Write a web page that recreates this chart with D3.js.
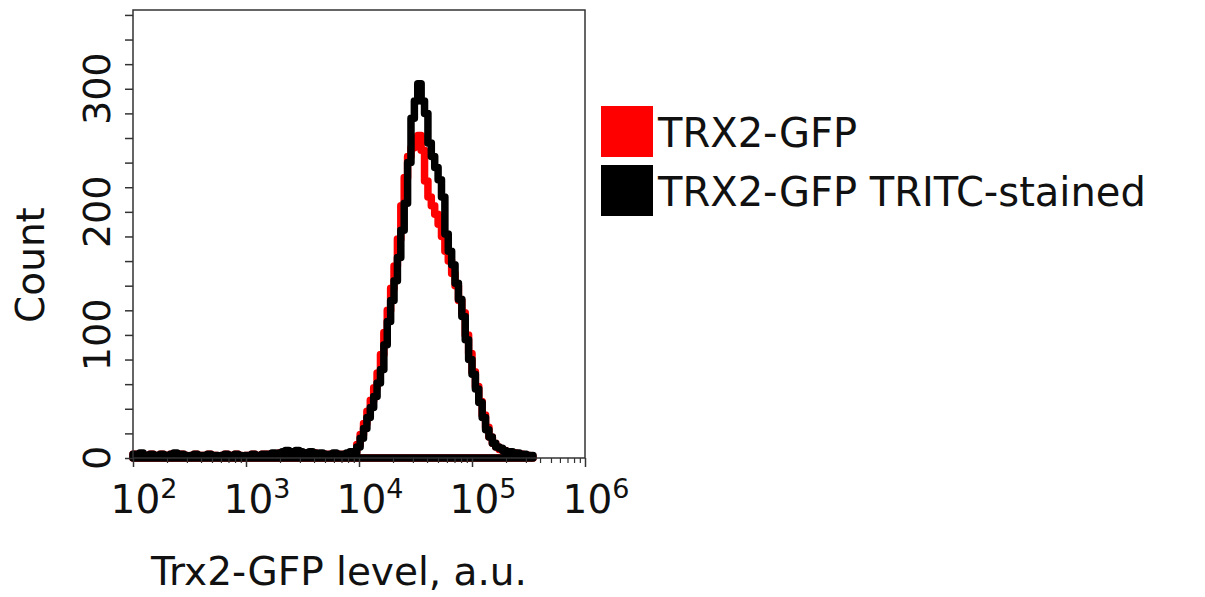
<!DOCTYPE html>
<html>
<head>
<meta charset="utf-8">
<script src="https://cdn.jsdelivr.net/npm/d3@7"></script>
<style>
  body { margin: 0; background: #fff; }
  text { font-family: "DejaVu Sans", sans-serif; fill: #111; }
</style>
</head>
<body>
<div id="chart"></div>
<script>
// histogram bins: log10 lower edge of first bin and bin width (decades)
const binStartLog = 2.0;
const binWidthLog = 0.03;

// counts per bin
const countsTrx2 = [
  3, 2, 3, 2, 1, 3, 2, 2, 3, 1, 2, 3, 3, 2, 3, 2, 1, 2, 3, 2,
  2, 1, 3, 2, 2, 1, 2, 3, 2, 2, 3, 2, 1, 2, 2, 3, 2, 2, 3, 3,
  2, 3, 3, 4, 4, 5, 4, 4, 5, 4, 4, 3, 4, 4, 3, 3, 3, 2, 3, 3,
  3, 2, 3, 3, 4, 5, 11, 19, 28, 38, 47, 57, 69, 84, 102, 120, 138, 156, 178, 205,
  228, 245, 252, 258, 262, 250, 225, 212, 205, 198, 190, 180, 168, 160, 150, 140, 128, 118, 100, 85,
  70, 58, 46, 35, 25, 17, 12, 9, 7, 6, 5, 4, 4, 3, 3, 2, 2, 1
];

const countsTritc = [
  3, 2, 4, 2, 1, 3, 2, 2, 3, 1, 2, 3, 4, 2, 3, 2, 1, 2, 3, 2,
  2, 1, 3, 2, 2, 1, 2, 3, 2, 2, 3, 2, 1, 2, 2, 3, 2, 2, 3, 3,
  2, 4, 3, 4, 5, 6, 5, 4, 6, 5, 4, 3, 5, 4, 3, 4, 3, 2, 3, 4,
  3, 2, 3, 4, 5, 4, 9, 16, 24, 33, 41, 50, 61, 72, 92, 111, 128, 144, 163, 185,
  207, 240, 276, 290, 304, 290, 280, 256, 245, 236, 226, 212, 182, 168, 157, 142, 129, 115, 96, 80,
  68, 56, 45, 33, 23, 17, 12, 9, 8, 6, 5, 5, 4, 4, 3, 3, 2, 2
];

const seriesNames = ["TRX2-GFP", "TRX2-GFP TRITC-stained"];
const seriesColors = ["#ff0000", "#000000"];
const xDecades = [1e2, 1e3, 1e4, 1e5, 1e6];
const yTickLabels = [0, 100, 200, 300];

const width = 1205, height = 597;
const margin = { top: 10, left: 133, right: 620, bottom: 139 };
const plotW = width - margin.left - margin.right;
const plotH = height - margin.top - margin.bottom;

const svg = d3.select("#chart").append("svg")
  .attr("width", width)
  .attr("height", height);

const x = d3.scaleLog().domain([1e2, 1e6]).range([0, plotW]);
const y = d3.scaleLinear().domain([0, 364]).range([plotH, 0]);

const g = svg.append("g")
  .attr("transform", "translate(" + margin.left + "," + margin.top + ")");

// step outline like matplotlib histtype='step'
function stepPath(counts) {
  const edges = d3.range(counts.length + 1).map(i => Math.pow(10, binStartLog + i * binWidthLog));
  const pts = [[edges[0], 0]];
  counts.forEach((c, i) => {
    pts.push([edges[i], c]);
    pts.push([edges[i + 1], c]);
  });
  pts.push([edges[edges.length - 1], 0]);
  return d3.line().x(d => x(d[0])).y(d => y(d[1]))(pts) + "Z";
}

[countsTrx2, countsTritc].forEach((counts, k) => {
  g.append("path")
    .attr("d", stepPath(counts))
    .attr("fill", "none")
    .attr("stroke", seriesColors[k])
    .attr("stroke-width", 7.5)
    .attr("stroke-linejoin", "round");
});

// frame
g.append("rect")
  .attr("width", plotW).attr("height", plotH)
  .attr("fill", "none").attr("stroke", "#333").attr("stroke-width", 1.5);

// y ticks every 20
const yAxis = d3.axisLeft(y)
  .tickValues(d3.range(0, 361, 20))
  .tickSize(8)
  .tickFormat("");
g.append("g").call(yAxis)
  .call(s => s.select(".domain").remove())
  .selectAll("line").attr("stroke", "#333").attr("stroke-width", 1.5);

yTickLabels.forEach(v => {
  g.append("text")
    .attr("transform", "translate(-23," + y(v) + ") rotate(-90)")
    .attr("text-anchor", "middle")
    .attr("font-size", 38)
    .text(v);
});

// x ticks: majors at decades, minors 2..9
const minorTicks = [];
xDecades.slice(0, -1).forEach(d => { for (let m = 2; m <= 9; m++) minorTicks.push(d * m); });

g.append("g")
  .attr("transform", "translate(0," + plotH + ")")
  .call(d3.axisBottom(x).tickValues(xDecades).tickSize(9).tickFormat(""))
  .call(s => s.select(".domain").remove())
  .selectAll("line").attr("stroke", "#333").attr("stroke-width", 1.5);

g.append("g")
  .attr("transform", "translate(0," + plotH + ")")
  .call(d3.axisBottom(x).tickValues(minorTicks).tickSize(5).tickFormat(""))
  .call(s => s.select(".domain").remove())
  .selectAll("line").attr("stroke", "#333").attr("stroke-width", 1.2);

xDecades.forEach(d => {
  const t = g.append("text")
    .attr("x", x(d) + 11)
    .attr("y", plotH + 55)
    .attr("text-anchor", "middle")
    .attr("font-size", 39);
  t.append("tspan").text("10");
  t.append("tspan")
    .attr("font-size", 27)
    .attr("dy", -15)
    .text(Math.round(Math.log10(d)));
});

// axis titles
svg.append("text")
  .attr("x", 339)
  .attr("y", 585)
  .attr("text-anchor", "middle")
  .attr("font-size", 39)
  .text("Trx2-GFP level, a.u.");

svg.append("text")
  .attr("transform", "translate(44,265) rotate(-90)")
  .attr("text-anchor", "middle")
  .attr("font-size", 39)
  .text("Count");

// legend
const legend = svg.append("g").attr("transform", "translate(601,106)");
seriesNames.forEach((name, k) => {
  legend.append("rect")
    .attr("x", 0).attr("y", k * 59)
    .attr("width", 52).attr("height", 51)
    .attr("fill", seriesColors[k]);
  legend.append("text")
    .attr("x", 57).attr("y", k * 59 + 41)
    .attr("font-size", 40)
    .text(name);
});
</script>
</body>
</html>
